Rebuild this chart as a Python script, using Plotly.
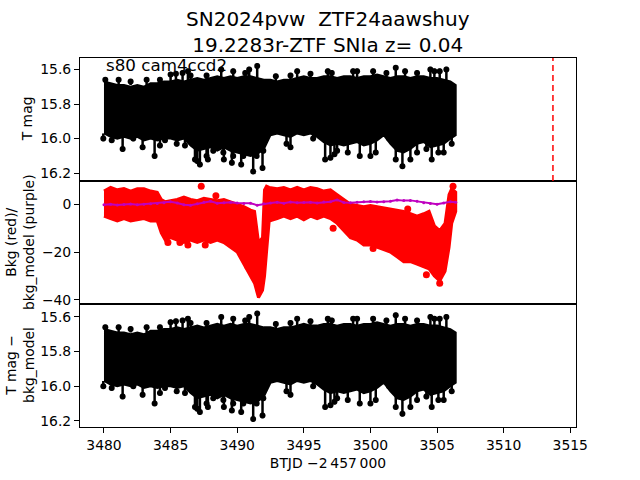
import plotly.graph_objects as go
from plotly.subplots import make_subplots

# ---------------- data ----------------
t_mag = [3480.0, 3480.5, 3481.0, 3481.5, 3482.0, 3482.5, 3483.0, 3483.5, 3484.0, 3484.5,
         3485.0, 3485.5, 3486.0, 3486.5, 3487.0, 3487.5, 3488.0, 3488.5, 3489.0, 3489.5,
         3490.0, 3490.5, 3491.0, 3491.5, 3492.0, 3492.5, 3493.0, 3493.5, 3494.0, 3494.5,
         3495.0, 3495.5, 3496.0, 3496.5, 3497.0, 3497.5, 3498.0, 3498.5, 3499.0, 3499.5,
         3500.0, 3500.5, 3501.0, 3501.5, 3502.0, 3502.5, 3503.0, 3503.5, 3504.0, 3504.5,
         3505.0, 3505.5, 3506.0, 3506.4]
mag_top = [15.67, 15.68, 15.69, 15.69, 15.70, 15.69, 15.70, 15.68, 15.68, 15.67,
           15.67, 15.66, 15.67, 15.66, 15.65, 15.66, 15.65, 15.64, 15.65, 15.64,
           15.65, 15.64, 15.64, 15.65, 15.66, 15.66, 15.67, 15.66, 15.66, 15.65,
           15.64, 15.65, 15.65, 15.64, 15.64, 15.65, 15.64, 15.64, 15.65, 15.64,
           15.64, 15.63, 15.64, 15.65, 15.64, 15.64, 15.65, 15.64, 15.64, 15.65,
           15.65, 15.66, 15.67, 15.69]
mag_bot = [15.97, 15.99, 16.00, 15.99, 16.00, 15.99, 16.01, 16.00, 16.01, 16.00,
           16.00, 16.01, 16.00, 16.04, 16.07, 16.06, 16.05, 16.07, 16.05, 16.07,
           16.08, 16.09, 16.10, 16.09, 16.06, 15.98, 15.97, 15.98, 15.99, 15.97,
           15.98, 15.97, 15.99, 16.02, 16.04, 16.03, 16.04, 16.03, 16.02, 16.04,
           16.03, 16.01, 15.98, 16.03, 16.07, 16.08, 16.06, 16.03, 16.02, 16.05,
           16.04, 16.03, 16.00, 15.98]

# isolated faint (downward) spikes of the magnitude light curve
low_t = [3481.4, 3482.9, 3483.8, 3484.2, 3487.0, 3487.8, 3489.0, 3489.6, 3490.3, 3491.2,
         3491.9, 3494.0, 3496.6, 3497.0, 3497.3, 3500.0, 3501.9, 3502.4, 3503.0, 3504.6,
         3505.1, 3479.95, 3480.58, 3482.2, 3484.58, 3485.46, 3486.08, 3486.83, 3487.2, 3487.7,
         3488.2, 3488.96, 3489.7, 3490.46, 3491.46, 3491.96, 3493.7, 3495.7, 3497.5, 3498.3,
         3499.2, 3500.4, 3501.4, 3503.5, 3504.2, 3505.5, 3506.1]
low_m = [16.06, 16.05, 16.10, 16.04, 16.13, 16.12, 16.12, 16.14, 16.15, 16.19,
         16.17, 16.05, 16.12, 16.11, 16.09, 16.10, 16.12, 16.16, 16.12, 16.12,
         16.08, 16.00, 16.01, 16.00, 16.01, 16.03, 16.04, 16.12, 16.15, 16.10,
         16.07, 16.08, 16.10, 16.10, 16.10, 16.07, 16.03, 16.00, 16.07, 16.08,
         16.10, 16.08, 16.00, 16.08, 16.06, 16.08, 16.03]
# bright (upward) spikes
up_t = [3485.9, 3486.3, 3488.8, 3490.9, 3491.5, 3494.5, 3496.8, 3499.0, 3501.9, 3504.5,
        3505.2, 3480.1, 3481.1, 3482.0, 3483.2, 3484.2, 3485.0, 3485.4, 3486.5, 3487.7,
        3489.7, 3490.6, 3492.9, 3494.0, 3495.5, 3497.1, 3498.7, 3500.2, 3501.2, 3502.6,
        3503.5, 3504.8, 3505.7]
up_m = [15.62, 15.61, 15.60, 15.60, 15.58, 15.61, 15.61, 15.61, 15.59, 15.60,
        15.61, 15.66, 15.66, 15.67, 15.66, 15.66, 15.63, 15.625, 15.635, 15.635,
        15.61, 15.62, 15.64, 15.635, 15.625, 15.62, 15.61, 15.61, 15.62, 15.61,
        15.62, 15.61, 15.60]

t_bkg = [3480.0, 3480.5, 3481.0, 3481.5, 3482.0, 3482.5, 3483.0, 3483.5, 3484.0, 3484.3,
         3484.6, 3485.0, 3485.5, 3486.0, 3486.5, 3487.0, 3487.5, 3488.0, 3488.5, 3489.0,
         3489.5, 3490.0, 3490.5, 3491.0, 3491.3, 3491.6, 3491.9, 3492.05, 3492.2, 3492.4,
         3493.0, 3493.5, 3494.0, 3494.5, 3495.0, 3495.5, 3496.0, 3496.5, 3497.0, 3497.5,
         3498.0, 3498.5, 3499.0, 3499.5, 3500.0, 3500.5, 3501.0, 3501.5, 3502.0, 3502.5,
         3503.0, 3503.5, 3504.0, 3504.4, 3504.8, 3505.2, 3505.6, 3505.9, 3506.1, 3506.4]
bkg_hi = [5.5, 7, 6, 6.5, 5.5, 6.5, 6.5, 5.5, 5, 2,
          1, 1.5, 2, 3, 2, 1.5, 2.5, 2, 1.5, 2,
          1, 0, -1, -2.5, -3, -16, -14, 6, 7.5, 7,
          6.5, 7, 6, 7, 6, 7, 6.5, 5.5, 6, 4,
          2, 0, -0.5, -1, -0.5, -1, -1.5, -2, -2.5, -3,
          -4, -5, -4, -3, -9, -11, -8, 4, 6.5, 5]
bkg_lo = [-5, -6, -7, -6, -7, -6.5, -6, -7, -7, -12,
          -15, -14, -15, -16, -15, -16, -15, -16, -15, -16,
          -18, -20, -25, -30, -33, -39, -36, -30, -20, -7,
          -6, -5, -6, -5, -6.5, -5, -6, -5, -6, -8,
          -11, -14, -15, -17, -17, -18, -19, -20, -22, -24,
          -24, -25, -26, -27, -30, -32, -28, -18, -8, -3]
bkg_out_t = [3484.8, 3485.7, 3486.3, 3487.6, 3487.3, 3488.4, 3504.2, 3505.2, 3506.2,
             3500.2, 3502.8, 3497.2, 3490.8]
bkg_out_v = [-16, -16, -17, -17, 7.5, 3.5, -29.5, -33, 7.5,
             -18.5, -2, -10, -26]

bkg_model = [-0.2, 0.0, -0.3, -0.1, 0.1, -0.2, 0.0, 0.2, 0.3, 0.6,
             1.0, 0.5, -0.2, -0.4, 0.2, 0.8, 1.2, 0.4, 0.6, 0.8,
             0.5, 0.3, 0.4, -0.4, 0.2, 0.5, 0.8, 0.4, 0.9, 0.6,
             0.7, 0.8, 0.5, 0.9, 1.0, 1.8, 0.7, 0.6, 0.8, 1.0,
             1.1, 0.9, 1.0, 1.2, 1.8, 1.5, 1.6, 1.2, 0.6, 0.3,
             0.0, 0.5, 1.0, 0.8]

t_discovery = 3513.7

title_line1 = "SN2024pvw  ZTF24aawshuy"
title_line2 = "19.2283r-ZTF SNIa z= 0.04"
field_label = "s80 cam4ccd2"
x_ticks = [3480, 3485, 3490, 3495, 3500, 3505, 3510, 3515]

FONT = "DejaVu Sans"
BAND_LOW_EDGE = 15.97   # spikes are drawn as error bars reaching back into the band
BAND_HIGH_EDGE = 15.69

fig = make_subplots(rows=3, cols=1, shared_xaxes=True, vertical_spacing=0)


def band(t, lo, hi, color, row, lw):
    xs = list(t) + list(t)[::-1]
    ys = list(hi) + list(lo)[::-1]
    fig.add_trace(go.Scatter(x=xs, y=ys, mode="lines", fill="toself", fillcolor=color,
                             line=dict(color=color, width=lw), hoverinfo="skip",
                             showlegend=False), row=row, col=1)


for r in (1, 3):
    band(t_mag, mag_bot, mag_top, "black", r, 2)
    fig.add_trace(go.Scatter(x=low_t, y=low_m, mode="markers",
                             marker=dict(color="black", size=6),
                             error_y=dict(type="data", symmetric=False,
                                          array=[0.015] * len(low_m),
                                          arrayminus=[m - BAND_LOW_EDGE for m in low_m],
                                          color="black", thickness=2.5, width=0),
                             showlegend=False), row=r, col=1)
    fig.add_trace(go.Scatter(x=up_t, y=up_m, mode="markers",
                             marker=dict(color="black", size=6),
                             error_y=dict(type="data", symmetric=False,
                                          array=[BAND_HIGH_EDGE - m for m in up_m],
                                          arrayminus=[0.015] * len(up_m),
                                          color="black", thickness=2.5, width=0),
                             showlegend=False), row=r, col=1)

band(t_bkg, bkg_lo, bkg_hi, "red", 2, 3)
fig.add_trace(go.Scatter(x=bkg_out_t, y=bkg_out_v, mode="markers",
                         marker=dict(color="red", size=7), showlegend=False), row=2, col=1)
fig.add_trace(go.Scatter(x=t_mag, y=bkg_model, mode="lines+markers",
                         line=dict(color="#bf00bf", width=2),
                         marker=dict(color="#bf00bf", size=3), showlegend=False), row=2, col=1)

axis_common = dict(showline=True, mirror=True, linecolor="black", linewidth=1,
                   ticks="outside", ticklen=5, tickwidth=1, tickcolor="black",
                   showgrid=False, zeroline=False,
                   tickfont=dict(family=FONT, size=13.9, color="black"))

for r in (1, 2, 3):
    fig.update_xaxes(range=[3478.2, 3515.43], tickvals=x_ticks, row=r, col=1, **axis_common)
fig.update_xaxes(showticklabels=False, ticks="", row=1, col=1)
fig.update_xaxes(showticklabels=False, ticks="", row=2, col=1)
fig.update_xaxes(showticklabels=True, row=3, col=1,
                 title=dict(text="BTJD \u22122\u2009457\u2009000",
                            font=dict(family=FONT, size=13.9, color="black"), standoff=6))

fig.update_yaxes(range=[16.245, 15.534], tickvals=[15.6, 15.8, 16.0, 16.2], tickformat=".1f",
                 row=1, col=1, **axis_common)
fig.update_yaxes(range=[-41.7, 9.7], tickvals=[0, -20, -40], row=2, col=1, **axis_common)
fig.update_yaxes(range=[16.236, 15.525], tickvals=[15.6, 15.8, 16.0, 16.2], tickformat=".1f",
                 row=3, col=1, **axis_common)

# discovery date marker (top panel only)
fig.add_shape(type="line", x0=t_discovery, x1=t_discovery, y0=0, y1=1,
              xref="x", yref="y domain", line=dict(color="red", width=1.5, dash="6px,4px"))

W, H = 640, 480
ml, mr, mt, mb = 80, 64, 57.6, 52.8
pw = W - ml - mr


def px2paper(xp):
    return (xp - ml) / pw


def py2paper(yp):
    return (H - mb - yp) / (H - mt - mb)


anns = [
    dict(text=title_line1 + "<br>" + title_line2, x=px2paper(328), y=py2paper(32),
         font=dict(family=FONT, size=20, color="black")),
    dict(text="T mag", x=px2paper(27), y=py2paper(119), textangle=-90,
         font=dict(family=FONT, size=13.9, color="black")),
    dict(text="Bkg (red)/<br>bkg_model (purple)", x=px2paper(20), y=py2paper(242), textangle=-90,
         font=dict(family=FONT, size=13.9, color="black")),
    dict(text="T mag \u2212<br>bkg_model", x=px2paper(20), y=py2paper(365), textangle=-90,
         font=dict(family=FONT, size=13.9, color="black")),
]
for a in anns:
    a.update(xref="paper", yref="paper", showarrow=False, xanchor="center", yanchor="middle")
    fig.add_annotation(**a)

fig.add_annotation(text=field_label, xref="paper", yref="paper", x=px2paper(104), y=py2paper(65),
                   xanchor="left", yanchor="middle", showarrow=False,
                   font=dict(family=FONT, size=16.7, color="black"))

fig.update_layout(width=W, height=H, margin=dict(l=ml, r=mr, t=mt, b=mb),
                  plot_bgcolor="white", paper_bgcolor="white", showlegend=False,
                  font=dict(family=FONT, color="black"))

fig.write_html("out.html")
